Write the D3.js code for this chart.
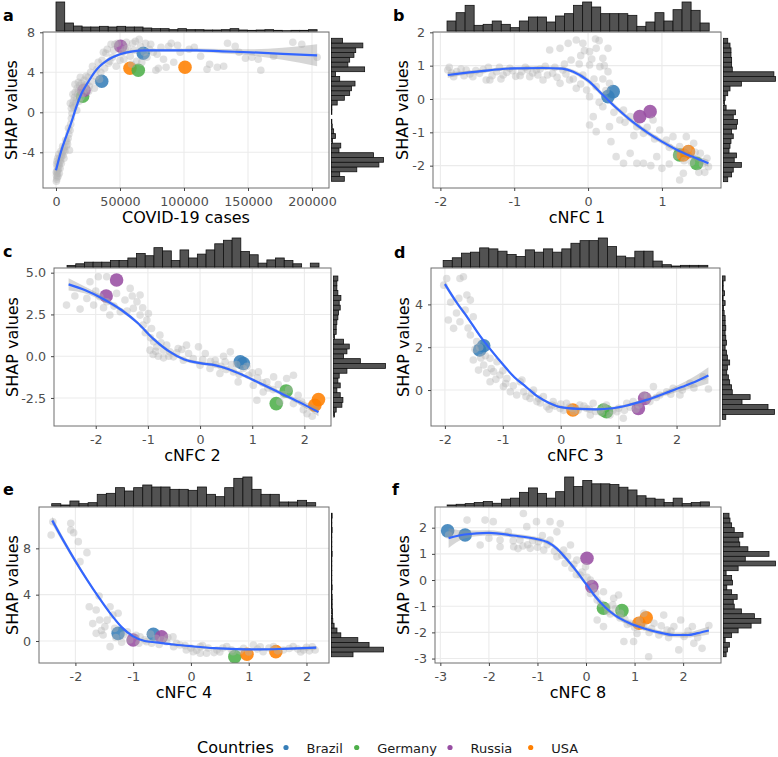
<!DOCTYPE html>
<html><head><meta charset="utf-8">
<script src="https://cdn.jsdelivr.net/npm/d3@7"></script>
<style>body{margin:0;background:#fff;} svg text{font-family:"DejaVu Sans",sans-serif;}</style>
</head><body><svg id="chart" width="778" height="757"></svg>
<script>
// ---------------- DATA ----------------
const countries = ["Brazil","Germany","Russia","USA"];
const countryColors = ["#377eb8","#4daf4a","#984ea3","#ff7f00"];

// Panel a : COVID-19 cases
const xTicksA = [0,50000,100000,150000,200000];
const yTicksA = [-4,0,4,8];
const grayA = [[300,-6.9],[600,-6.7],[900,-6.5],[400,-6.3],[1200,-6.1],[700,-5.9],[1500,-5.8],[2000,-5.6],[1000,-5.5],[2500,-5.3],[1800,-5.1],[3000,-5.0],[3500,-4.8],[2800,-4.6],[4000,-4.5],[4500,-4.2],[5000,-4.0],[5500,-4.3],[6000,-3.8],[6500,-3.5],[7000,-3.9],[8000,-3.4],[8500,-2.9],[9000,-3.2],[9500,-2.6],[10000,-2.2],[10500,-3.8],[11000,-1.8],[11500,-1.2],[12000,-0.6],[12500,-0.1],[12000,0.4],[13000,0.7],[13500,1.1],[14000,0.5],[14500,1.5],[15000,2.0],[15500,0.9],[16000,1.3],[16500,2.4],[17000,1.8],[17500,3.0],[18000,1.1],[18500,2.7],[19000,3.5],[20000,2.9],[21000,1.9],[22000,3.2],[23000,2.3],[24000,2.8],[25000,3.5],[26000,2.6],[27000,4.0],[28000,3.1],[30000,2.4],[31000,3.6],[32000,4.3],[33000,5.0],[35000,4.0],[36000,5.2],[38000,4.4],[39000,5.9],[40000,6.3],[41000,4.9],[43000,6.8],[44000,5.5],[45000,6.2],[47000,4.6],[48000,6.9],[52000,6.0],[53000,5.3],[55000,7.0],[56000,6.4],[58000,5.6],[60000,6.9],[61000,6.2],[63000,5.1],[65000,7.3],[66000,6.6],[70000,6.9],[71000,5.5],[73000,6.3],[76000,6.0],[78000,4.2],[80000,4.4],[82000,6.5],[84000,5.3],[86000,4.5],[88000,6.6],[90000,6.9],[92000,5.0],[95000,6.7],[97000,6.0],[104000,6.3],[108000,6.5],[113000,5.6],[118000,4.3],[120000,4.8],[126000,4.5],[131000,4.6],[134000,6.9],[140000,6.6],[143000,6.0],[148000,5.4],[153000,5.5],[158000,5.3],[160000,4.2],[170000,5.6],[185000,7.0],[192000,6.8],[204000,5.5],[200,-6.0],[500,-5.2],[800,-4.9],[1300,-4.6],[1600,-6.4],[2200,-4.2],[2600,-6.1],[3200,-5.6],[3800,-3.9],[4200,-5.1],[5200,-3.4],[6200,-4.6],[7500,-2.8],[9800,-1.6],[11200,0.9],[13200,1.8],[14800,2.8],[16200,0.2],[17800,2.2],[19500,1.5],[21500,2.6],[23500,3.6],[25500,2.1],[28500,4.6],[34000,3.3],[37000,6.0],[42000,5.1],[46000,6.8],[50000,5.2],[54000,6.3],[59000,4.8],[62000,7.1],[67000,5.0],[69000,6.0],[74000,6.8],[79000,5.8]];
const colA = [["Brazil",68200,5.9],["Brazil",35700,3.1],["USA",57800,4.4],["USA",100800,4.5],["Germany",64300,4.2],["Germany",20800,1.6],["Russia",50500,6.6],["Russia",21900,2.2]];
const smXA = [0,4000,8000,12000,16000,20000,25000,30000,35000,40000,50000,60000,70000,90000,110000,130000,152000,177000,204000];
const smYA = [-5.8,-3.9,-2.4,-1.0,0.6,1.9,3.0,4.0,4.7,5.2,5.8,6.1,6.2,6.2,6.2,6.1,6.0,5.85,5.7];
const smSEA = [0.3,0.2,0.15,0.15,0.15,0.15,0.15,0.15,0.15,0.15,0.15,0.15,0.15,0.15,0.18,0.22,0.3,0.6,1.1];
const histTopA = [87,24,15,12,12,14,12,14,12,12,9,7,7,4,7,4,4,3,3,4,7,3,2,3,4,2,1,2,2,4];
const histTopRangeA = [0,204000];
const histRightA = [36,23,71,133,146,118,21,26,3,11,6,2,1,0,1,1,16,36,51,56,66,23,11,93,46,51,63,68,88,31];
const histRightRangeA = [-6.9,7.4];

// Panel b : cNFC 1
const xTicksB = [-2,-1,0,1];
const yTicksB = [-2,-1,0,1,2];
const grayB = [[-1.90,0.87],[-1.82,0.67],[-1.78,0.82],[-1.65,0.87],[-1.56,0.67],[-1.47,0.77],[-1.38,0.57],[-1.33,0.57],[-1.24,0.82],[-1.15,0.72],[-1.06,0.92],[-0.90,0.82],[-0.79,0.67],[-0.70,0.87],[-0.61,0.57],[-0.48,0.77],[-0.38,0.47],[-0.34,0.87],[-0.25,0.57],[-0.16,0.32],[-0.23,1.17],[-0.52,1.47],[-0.38,1.52],[-0.27,1.67],[-0.16,1.77],[-0.07,1.67],[0.02,1.42],[0.11,1.52],[0.20,1.22],[0.27,1.52],[0.27,0.82],[0.16,0.97],[0.02,1.02],[-0.07,0.72],[0.02,0.07],[0.11,0.37],[0.20,-0.23],[0.07,-0.53],[0.02,-0.78],[0.11,-0.98],[0.29,-0.83],[0.31,-1.28],[0.43,-0.63],[0.48,-0.33],[0.57,-0.53],[0.66,-0.83],[0.75,-1.03],[0.88,-0.63],[0.97,-0.93],[1.06,-1.23],[1.15,-1.13],[1.24,-1.43],[1.33,-1.13],[1.43,-1.33],[1.52,-1.63],[1.61,-1.78],[1.63,-2.03],[1.24,-2.43],[1.29,-2.23],[0.93,-1.73],[1.00,-2.08],[0.66,-1.93],[0.57,-1.63],[0.48,-1.93],[0.38,-1.73],[0.75,-1.93],[0.29,0.47],[-0.02,0.27],[-1.85,0.78],[-1.72,0.9],[-1.6,0.75],[-1.42,0.88],[-1.3,0.7],[-1.2,0.95],[-1.1,0.8],[-0.98,0.68],[-0.85,0.95],[-0.75,0.78],[-0.65,0.9],[-0.55,0.72],[-0.45,0.95],[-0.3,0.75],[-0.2,0.6],[1.4,-1.9],[1.5,-2.2],[1.35,-1.5],[0.1,1.8],[-0.1,1.3],[0.2,0.6],[-1.88,0.95],[-1.68,0.7],[-1.52,0.85],[-1.35,0.95],[-1.18,0.6],[-1.02,0.85],[-0.92,0.7],[-0.82,0.88],[-0.68,0.72],[-0.58,0.98],[-0.42,0.65],[-0.32,1.05],[-0.12,1.05],[-0.05,1.45],[0.05,1.2],[0.15,1.75],[0.22,1.0],[0.08,0.6],[-0.1,0.45],[0.24,0.25],[0.15,-0.1],[0.35,-0.4],[0.5,-0.7],[0.62,-1.1],[0.8,-0.85],[0.9,-1.2],[1.1,-1.45],[1.2,-1.7],[1.3,-1.85],[1.45,-1.6],[1.55,-1.95],[1.58,-2.2],[1.1,-1.95],[0.85,-2.0]];
const colB = [["Brazil",0.27,0.07],["Brazil",0.34,0.22],["Russia",0.70,-0.53],["Russia",0.84,-0.38],["Germany",1.24,-1.68],["Germany",1.47,-1.93],["USA",1.29,-1.68],["USA",1.36,-1.58]];
const smXB = [-1.9,-1.5,-1.0,-0.6,-0.35,-0.2,0,0.2,0.4,0.6,0.8,1.0,1.2,1.4,1.63];
const smYB = [0.72,0.82,0.92,0.93,0.91,0.82,0.55,0.12,-0.3,-0.68,-1.0,-1.28,-1.52,-1.72,-1.93];
const smSEB = [0.08,0.05,0.05,0.05,0.05,0.06,0.07,0.07,0.07,0.07,0.07,0.07,0.07,0.08,0.1];
const histTopB = [30,55,77,17,20,30,20,10,30,42,42,27,45,52,77,87,72,52,52,52,47,14,27,55,30,64,87,62,24];
const histTopRangeB = [-1.91,1.64];
const histRightB = [13,25,30,55,33,40,17,20,23,30,25,40,43,30,37,8,3,5,13,20,55,160,155,27,25,25,23,23,20,13];
const histRightRangeB = [-2.48,1.82];

// Panel c : cNFC 2
const xTicksC = [-2,-1,0,1,2];
const yTicksC = [-2.5,0,2.5,5];
const grayC = [[-2.56,3.06],[-2.30,2.82],[-2.17,3.46],[-2.11,4.46],[-1.95,4.76],[-2.04,3.06],[-1.92,3.56],[-1.79,3.26],[-1.73,2.46],[-1.60,3.76],[-1.53,2.66],[-1.44,3.36],[-1.34,4.06],[-1.28,2.86],[-1.21,3.26],[-1.15,2.46],[-1.09,1.86],[-1.02,2.16],[-0.99,2.56],[-0.93,1.66],[-0.89,0.86],[-0.83,0.56],[-0.77,1.26],[-0.70,0.36],[-0.64,0.66],[-0.58,0.26],[-0.51,-0.04],[-0.42,0.46],[-0.32,-0.24],[-0.22,0.16],[-0.13,-0.14],[-0.03,0.56],[0.00,-0.54],[0.10,0.16],[0.19,-0.74],[0.29,-0.24],[0.38,-1.04],[0.48,-0.34],[0.58,0.26],[0.64,-0.94],[0.73,-1.54],[0.83,-0.74],[0.93,-1.14],[1.02,-1.74],[1.12,-0.94],[1.21,-2.14],[1.09,-2.64],[1.28,-1.54],[1.41,-1.24],[1.53,-2.74],[1.66,-1.34],[1.79,-1.14],[1.79,-2.84],[1.88,-2.34],[1.95,-2.74],[-0.26,0.66],[-0.96,0.36],[-1.15,3.66],[-1.79,4.76],[2.05,-3.45],[1.98,-3.2],[2.15,-3.6],[-0.9,0.1],[-0.8,0.0],[-0.7,-0.1],[0.4,-0.6],[0.6,-0.5],[0.5,-0.8],[0.2,-0.3],[0.9,-0.6],[1.1,-1.3],[1.3,-1.9],[1.6,-2.3],[1.7,-2.0],[-2.4,3.6],[-2.0,3.9],[-1.85,2.9],[-1.65,3.0],[-1.4,2.7],[-1.3,3.6],[-1.1,2.9],[-1.05,1.4],[-0.95,1.1],[-0.85,0.3],[-0.75,0.8],[-0.6,0.0],[-0.45,0.2],[-0.35,0.4],[0.05,-0.2],[0.3,-0.5],[0.45,0.0],[0.7,-0.5],[0.75,-1.1],[1.0,-1.0],[1.2,-1.6],[1.4,-2.0],[1.5,-1.7]];
const colC = [["Russia",-1.60,4.56],["Russia",-1.80,3.60],["Brazil",0.77,-0.34],["Brazil",0.83,-0.44],["Germany",1.65,-2.08],["Germany",1.46,-2.84],["USA",2.20,-2.94],["USA",2.27,-2.60]];
const smXC = [-2.52,-2.2,-1.9,-1.5,-1.2,-0.9,-0.6,-0.3,0,0.3,0.55,0.8,1.1,1.5,1.9,2.27];
const smYC = [4.3,3.95,3.5,2.75,2.0,1.05,0.3,-0.2,-0.42,-0.55,-0.78,-1.1,-1.55,-2.15,-2.75,-3.35];
const smSEC = [0.37,0.2,0.15,0.12,0.1,0.1,0.1,0.1,0.1,0.1,0.1,0.1,0.1,0.12,0.15,0.25];
const histTopC = [5,10,15,15,15,20,20,28,42,35,60,50,20,53,28,40,53,72,83,90,48,38,12,22,28,20,10,0,12];
const histTopRangeC = [-2.55,2.28];
const histRightC = [3,8,25,28,20,10,20,13,17,40,155,80,30,40,47,30,3,8,8,10,13,15,20,17,22,13,10,10,13];
const histRightRangeC = [-3.64,4.8];

// Panel d : cNFC 3
const xTicksD = [-2,-1,0,1,2];
const yTicksD = [0,2,4];
const grayD = [[-2.02,4.90],[-1.97,5.21],[-1.94,3.27],[-1.85,2.88],[-1.74,5.21],[-1.68,5.29],[-1.76,4.28],[-1.62,4.44],[-1.56,4.20],[-1.65,3.74],[-1.74,3.19],[-1.51,3.42],[-1.56,2.57],[-1.45,2.26],[-1.51,1.40],[-1.42,0.93],[-1.33,1.17],[-1.22,1.48],[-1.16,0.86],[-1.22,0.39],[-1.10,1.32],[-1.05,0.70],[-0.99,0.16],[-0.93,0.54],[-0.87,-0.08],[-0.70,0.39],[-0.76,-0.23],[-0.64,-0.08],[-0.53,-0.39],[-0.47,0.00],[-0.41,-0.54],[-0.30,-0.31],[-0.24,-0.78],[-0.13,-0.54],[-0.01,-0.86],[0.10,-0.62],[0.22,-1.01],[0.33,-0.70],[0.45,-0.86],[0.56,-0.62],[0.68,-0.93],[0.79,-0.70],[0.97,-1.01],[1.08,-1.32],[1.14,-0.62],[1.25,-0.54],[1.43,-0.23],[1.54,-0.54],[1.60,0.16],[1.71,-0.23],[1.83,-0.08],[1.94,0.08],[2.06,-0.23],[2.23,0.31],[2.46,0.62],[2.55,0.05],[-0.67,0.47],[0.51,-1.17],[0.85,-1.17],[0.05,-0.95],[0.3,-0.95],[0.6,-1.0],[0.9,-0.95],[0.4,-0.75],[0.75,-0.8],[1.0,-0.85],[-0.1,-0.75],[-0.35,-0.6],[-0.2,-0.9],[1.3,-0.9],[1.2,-0.8],[0.15,-0.8],[-1.3,1.6],[-1.4,2.0],[-1.2,1.0],[-1.0,0.9],[-1.9,4.1],[-1.8,3.6],[-1.6,2.9],[-1.48,1.9],[-1.38,1.5],[-1.28,0.8],[-1.12,0.5],[-0.95,0.3],[-0.82,0.2],[-0.6,-0.3],[-0.5,-0.15],[-0.38,-0.4],[-0.15,-0.7],[0.0,-0.65],[0.2,-0.85],[0.5,-0.9],[0.7,-1.05],[1.1,-0.95],[1.35,-0.7],[1.5,-0.3],[1.65,-0.35],[1.9,-0.2],[2.1,0.0],[2.3,0.1]];
const colD = [["Brazil",-1.40,1.87],["Brazil",-1.33,2.07],["USA",0.21,-0.93],["Germany",0.74,-0.93],["Germany",0.79,-1.01],["Russia",1.34,-0.86],["Russia",1.45,-0.39]];
const smXD = [-2.0,-1.8,-1.6,-1.4,-1.2,-1.0,-0.8,-0.6,-0.4,-0.2,0,0.3,0.6,0.9,1.2,1.5,1.8,2.1,2.35,2.55];
const smYD = [4.95,4.1,3.35,2.55,1.85,1.2,0.6,0.15,-0.3,-0.6,-0.8,-0.88,-0.9,-0.85,-0.68,-0.45,-0.15,0.15,0.42,0.68];
const smSED = [0.12,0.1,0.08,0.07,0.07,0.07,0.06,0.06,0.06,0.06,0.06,0.06,0.06,0.06,0.07,0.08,0.1,0.18,0.28,0.38];
const histTopD = [20,28,42,45,58,55,48,38,32,52,45,55,45,55,72,80,80,88,62,33,28,48,48,18,7,3,5,5,5];
const histTopRangeD = [-2.03,2.54];
const histRightD = [10,160,140,60,85,30,28,22,18,13,15,22,15,12,8,12,10,8,10,8,8,5,3,8,2,6,2,2,8];
const histRightRangeD = [-1.37,5.33];

// Panel e : cNFC 4
const xTicksE = [-2,-1,0,1,2];
const yTicksE = [0,4,8];
const grayE = [[-2.42,9.15],[-2.39,10.30],[-2.08,10.16],[-2.08,9.58],[-2.03,9.35],[-1.95,8.58],[-1.92,6.85],[-1.80,7.63],[-1.76,2.96],[-1.59,3.88],[-1.64,2.68],[-1.58,1.81],[-1.49,1.24],[-1.40,2.96],[-1.35,2.24],[-1.26,2.39],[-1.32,1.09],[-1.52,0.52],[-1.64,0.66],[-1.17,0.52],[-1.06,0.09],[-0.88,0.37],[-0.77,-0.06],[-0.60,0.23],[-0.42,-0.06],[-0.31,0.37],[-0.19,-0.35],[-0.08,-0.78],[0.04,-0.92],[0.16,-0.49],[0.27,-1.06],[0.45,-0.78],[0.62,-0.49],[0.73,-0.92],[0.91,-0.63],[1.08,-0.35],[1.25,-0.92],[1.43,-0.49],[1.60,-0.78],[1.77,-0.49],[1.95,-0.78],[2.15,-0.78],[-0.68,-0.20],[0.16,-1.06],[-1.40,-0.49],[-1.2,-0.1],[-0.9,-0.2],[-0.5,0.1],[0.3,-0.6],[0.5,-0.95],[0.85,-0.85],[1.15,-0.7],[1.35,-0.6],[1.7,-0.65],[2.0,-0.55],[0.0,-0.6],[-0.3,-0.5],[1.9,-0.95],[2.1,-0.5],[-1.7,1.5],[-1.55,0.9],[-1.45,1.8],[-1.3,0.3],[-1.1,0.8],[-0.95,0.5],[-0.8,0.1],[-0.7,0.6],[-0.55,-0.3],[-0.4,0.3],[-0.25,-0.2],[-0.1,-0.4],[0.1,-0.8],[0.2,-0.4],[0.4,-1.0],[0.55,-0.6],[0.7,-0.75],[1.0,-0.95],[1.2,-0.5],[1.5,-0.85],[1.85,-0.7],[2.05,-0.85]];
const colE = [["Brazil",-1.26,0.66],["Brazil",-0.65,0.58],["Russia",-1.0,0.09],["Russia",-0.51,0.37],["Germany",0.76,-1.35],["USA",0.97,-1.15],["USA",1.47,-0.92]];
const smXE = [-2.4,-2.2,-2.0,-1.8,-1.6,-1.4,-1.2,-1.0,-0.8,-0.6,-0.3,0,0.4,0.8,1.2,1.6,2.17];
const smYE = [10.4,8.6,6.9,5.3,3.8,2.4,1.2,0.4,0.0,-0.12,-0.3,-0.45,-0.62,-0.7,-0.72,-0.68,-0.58];
const smSEE = [0.35,0.25,0.2,0.15,0.12,0.1,0.1,0.1,0.08,0.08,0.08,0.08,0.08,0.08,0.08,0.1,0.15];
const histTopE = [7,3,15,7,10,35,38,55,45,55,63,57,57,50,50,47,57,35,28,55,83,87,50,35,35,12,12,17,10];
const histTopRangeE = [-2.41,2.16];
const histRightE = [67,162,117,82,29,17,8,4,3,3,2,2,2,1,2,1,1,1,1,1,1,2,1,1,1,1,2,1,1,2];
const histRightRangeE = [-1.36,11.03];

// Panel f : cNFC 8
const xTicksF = [-3,-2,-1,0,1,2];
const yTicksF = [-3,-2,-1,0,1,2];
const grayF = [[-2.83,1.72],[-2.45,2.29],[-2.18,1.34],[-2.08,2.29],[-1.91,2.23],[-1.77,1.53],[-1.60,1.84],[-1.49,1.27],[-1.36,1.53],[-1.29,2.54],[-1.22,2.04],[-1.15,1.21],[-1.02,2.23],[-0.98,1.46],[-0.87,1.15],[-0.74,2.23],[-0.60,1.84],[-0.74,1.53],[-0.60,0.89],[-0.46,1.15],[-0.53,2.16],[-0.32,1.34],[-0.43,0.64],[-0.29,0.45],[-0.19,0.76],[-0.12,0.19],[-0.01,0.51],[0.09,0.00],[0.09,-0.51],[0.23,-0.76],[0.36,-0.45],[0.43,-1.02],[0.57,-0.70],[0.67,-0.57],[0.71,-1.27],[0.23,-1.53],[0.36,-1.78],[0.78,-2.35],[0.98,-2.35],[0.91,-1.65],[1.05,-2.04],[1.19,-1.78],[1.40,-1.65],[1.60,-1.34],[1.67,-1.91],[1.81,-1.78],[1.91,-2.67],[1.95,-1.53],[2.02,-2.16],[2.19,-1.78],[2.22,-2.42],[2.39,-2.61],[2.53,-1.74],[1.29,-2.93],[1.19,-1.27],[-1.77,1.27],[-1.3,1.3],[-1.1,1.5],[-0.9,1.7],[-1.5,1.5],[-2.0,1.6],[0.5,-1.3],[0.8,-1.5],[1.0,-1.8],[1.3,-2.0],[1.5,-2.1],[1.7,-2.2],[0.6,-1.1],[-0.2,0.2],[0.15,-0.3],[-1.4,1.2],[-1.2,1.35],[-1.0,1.25],[-0.8,1.35],[-0.65,1.1],[-0.5,0.95],[-0.38,0.9],[-0.25,0.6],[-0.08,0.3],[0.02,0.1],[0.2,-0.5],[0.3,-0.9],[0.45,-1.2],[0.55,-0.95],[0.7,-1.45],[0.85,-1.7],[1.1,-1.55],[1.35,-1.85],[1.55,-1.75],[1.75,-1.95],[2.1,-1.95],[2.3,-2.2]];
const colF = [["Brazil",-2.85,1.88],["Brazil",-2.49,1.72],["Russia",0.02,0.83],["Russia",0.12,-0.25],["Germany",0.36,-1.08],["Germany",0.74,-1.17],["USA",1.09,-1.65],["USA",1.24,-1.44]];
const smXF = [-2.83,-2.5,-2.0,-1.5,-1.0,-0.8,-0.6,-0.4,-0.2,0,0.2,0.4,0.6,0.9,1.2,1.5,1.8,2.1,2.3,2.53];
const smYF = [1.6,1.74,1.8,1.7,1.56,1.45,1.2,0.8,0.35,-0.15,-0.65,-1.05,-1.35,-1.65,-1.85,-2.0,-2.1,-2.1,-2.03,-1.93];
const smSEF = [0.38,0.15,0.1,0.08,0.08,0.08,0.08,0.08,0.08,0.08,0.08,0.08,0.08,0.08,0.08,0.08,0.09,0.1,0.12,0.15];
const histTopF = [3,5,7,10,13,8,20,23,40,53,37,23,42,85,57,75,65,65,63,55,47,30,23,20,10,23,7,10,12];
const histTopRangeF = [-2.86,2.54];
const histRightF = [8,12,18,5,25,45,85,115,95,55,33,30,42,25,10,28,25,8,45,160,67,140,75,50,47,60,33,25,20,17];
const histRightRangeF = [-2.93,2.55];

// ---------------- LAYOUT ----------------
const fmtInt = d => String(d);
const fmt1 = d => d.toFixed(1);
const panels = [
  {key:"a", xTitle:"COVID-19 cases", gray:grayA, col:colA, smX:smXA, smY:smYA, smSE:smSEA, xTicks:xTicksA, yTicks:yTicksA, xFmt:fmtInt, yFmt:fmtInt,
   hTop:histTopA, hTopR:histTopRangeA, hRight:histRightA, hRightR:histRightRangeA,
   rect:{l:43,r:329,t:32,b:188}, xDom:[-10156,213281], yDom:[-7.57,8.03], lab:[3,20.5], yTitleX:17.3},
  {key:"b", xTitle:"cNFC 1", gray:grayB, col:colB, smX:smXB, smY:smYB, smSE:smSEB, xTicks:xTicksB, yTicks:yTicksB, xFmt:fmtInt, yFmt:fmtInt,
   hTop:histTopB, hTopR:histTopRangeB, hRight:histRightB, hRightR:histRightRangeB,
   rect:{l:433,r:721,t:32,b:188}, xDom:[-2.10,1.80], yDom:[-2.67,2.01], lab:[393,20.5], yTitleX:408.3},
  {key:"c", xTitle:"cNFC 2", gray:grayC, col:colC, smX:smXC, smY:smYC, smSE:smSEC, xTicks:xTicksC, yTicks:yTicksC, xFmt:fmtInt, yFmt:fmt1,
   hTop:histTopC, hTopR:histTopRangeC, hRight:histRightC, hRightR:histRightRangeC,
   rect:{l:54,r:331,t:268,b:426}, xDom:[-2.80,2.51], yDom:[-4.18,5.28], lab:[3,256.7], yTitleX:18.3},
  {key:"d", xTitle:"cNFC 3", gray:grayD, col:colD, smX:smXD, smY:smYD, smSE:smSED, xTicks:xTicksD, yTicks:yTicksD, xFmt:fmtInt, yFmt:fmtInt,
   hTop:histTopD, hTopR:histTopRangeD, hRight:histRightD, hRightR:histRightRangeD,
   rect:{l:431,r:720,t:268,b:426}, xDom:[-2.24,2.75], yDom:[-1.68,5.70], lab:[394,257.7], yTitleX:409},
  {key:"e", xTitle:"cNFC 4", gray:grayE, col:colE, smX:smXE, smY:smYE, smSE:smSEE, xTicks:xTicksE, yTicks:yTicksE, xFmt:fmtInt, yFmt:fmtInt,
   hTop:histTopE, hTopR:histTopRangeE, hRight:histRightE, hRightR:histRightRangeE,
   rect:{l:39,r:329,t:507,b:663}, xDom:[-2.63,2.39], yDom:[-1.90,11.57], lab:[3,495], yTitleX:18.3},
  {key:"f", xTitle:"cNFC 8", gray:grayF, col:colF, smX:smXF, smY:smYF, smSE:smSEF, xTicks:xTicksF, yTicks:yTicksF, xFmt:fmtInt, yFmt:fmtInt,
   hTop:histTopF, hTopR:histTopRangeF, hRight:histRightF, hRightR:histRightRangeF,
   rect:{l:435,r:721,t:507,b:663}, xDom:[-3.11,2.78], yDom:[-3.17,2.79], lab:[392,495], yTitleX:409}
];

const svg = d3.select("#chart");
svg.append("rect").attr("width",778).attr("height",757).attr("fill","#fff");
const colorOf = c => countryColors[countries.indexOf(c)];

function drawPanel(p) {
  const {l,r,t,b} = p.rect;
  const g = svg.append("g");
  const x = d3.scaleLinear().domain(p.xDom).range([l,r]);
  const y = d3.scaleLinear().domain(p.yDom).range([b,t]);
  const clipId = "clip-" + p.key;
  svg.append("clipPath").attr("id",clipId).append("rect")
    .attr("x",l).attr("y",t).attr("width",r-l).attr("height",b-t);

  // grid
  g.append("g").selectAll("line").data(p.xTicks).join("line")
    .attr("x1",d=>x(d)).attr("x2",d=>x(d)).attr("y1",t).attr("y2",b)
    .attr("stroke","#ebebeb").attr("stroke-width",1.1);
  g.append("g").selectAll("line").data(p.yTicks).join("line")
    .attr("x1",l).attr("x2",r).attr("y1",d=>y(d)).attr("y2",d=>y(d))
    .attr("stroke","#ebebeb").attr("stroke-width",1.1);

  const pl = g.append("g").attr("clip-path",`url(#${clipId})`);
  pl.append("g").selectAll("circle").data(p.col).join("circle")
    .attr("cx",d=>x(d[1])).attr("cy",d=>y(d[2])).attr("r",6.8)
    .attr("fill",d=>colorOf(d[0])).attr("fill-opacity",0.88);
  pl.append("g").selectAll("circle").data(p.gray).join("circle")
    .attr("cx",d=>x(d[0])).attr("cy",d=>y(d[1])).attr("r",3.8)
    .attr("fill","#b3b3b3").attr("fill-opacity",0.4);
  const sm = p.smX.map((v,i)=>[v,p.smY[i],p.smSE[i]]);
  pl.append("path").datum(sm)
    .attr("d", d3.area().curve(d3.curveMonotoneX).x(d=>x(d[0])).y0(d=>y(d[1]-d[2])).y1(d=>y(d[1]+d[2])))
    .attr("fill","#999999").attr("fill-opacity",0.4);
  pl.append("path").datum(sm)
    .attr("d", d3.line().curve(d3.curveMonotoneX).x(d=>x(d[0])).y(d=>y(d[1])))
    .attr("fill","none").attr("stroke","#3366ff").attr("stroke-width",2.2);

  g.append("rect").attr("x",l).attr("y",t).attr("width",r-l).attr("height",b-t)
    .attr("fill","none").attr("stroke","#6e6e6e").attr("stroke-width",1);

  // axes
  const xa = g.append("g").attr("transform",`translate(0,${b})`)
    .call(d3.axisBottom(x).tickValues(p.xTicks).tickFormat(p.xFmt).tickSize(3).tickPadding(6));
  const ya = g.append("g").attr("transform",`translate(${l},0)`)
    .call(d3.axisLeft(y).tickValues(p.yTicks).tickFormat(p.yFmt).tickSize(3).tickPadding(5));
  [xa,ya].forEach(a=>{
    a.select(".domain").remove();
    a.selectAll(".tick line").attr("stroke","#444");
    a.selectAll(".tick text").attr("fill","#4d4d4d").style("font-size","12.7px").style("font-family","DejaVu Sans");
  });

  // axis titles
  g.append("text").attr("x",(l+r)/2).attr("y",b+35).attr("text-anchor","middle")
    .style("font-size","16px").attr("fill","#000").text(p.xTitle);
  g.append("text").attr("transform",`translate(${p.yTitleX},${(t+b)/2}) rotate(-90)`)
    .attr("text-anchor","middle").style("font-size","16px").attr("fill","#000").text("SHAP values");
  g.append("text").attr("x",p.lab[0]).attr("y",p.lab[1]).style("font-size","16px")
    .style("font-weight","bold").attr("fill","#000").text(p.key);

  // top histogram
  const nT = p.hTop.length, wT = (p.hTopR[1]-p.hTopR[0])/nT;
  const hsT = d3.scaleLinear().domain([0,d3.max(p.hTop)]).range([0,29]);
  g.append("g").selectAll("rect").data(p.hTop.map((c,i)=>({c,i})).filter(d=>d.c>0)).join("rect")
    .attr("x",d=>x(p.hTopR[0]+d.i*wT))
    .attr("width",d=>x(p.hTopR[0]+(d.i+1)*wT)-x(p.hTopR[0]+d.i*wT))
    .attr("y",d=>t-1-hsT(d.c)).attr("height",d=>hsT(d.c))
    .attr("fill","#525252").attr("stroke","#111").attr("stroke-width",0.8);

  // right histogram
  const nR = p.hRight.length, wR = (p.hRightR[1]-p.hRightR[0])/nR;
  const hsR = d3.scaleLinear().domain([0,d3.max(p.hRight)]).range([0,52]);
  g.append("g").selectAll("rect").data(p.hRight.map((c,i)=>({c,i})).filter(d=>d.c>0)).join("rect")
    .attr("y",d=>y(p.hRightR[0]+(d.i+1)*wR))
    .attr("height",d=>y(p.hRightR[0]+d.i*wR)-y(p.hRightR[0]+(d.i+1)*wR))
    .attr("x",r+2.5).attr("width",d=>hsR(d.c))
    .attr("fill","#525252").attr("stroke","#111").attr("stroke-width",0.8);
}
panels.forEach(drawPanel);

// legend
const lg = svg.append("g");
lg.append("text").attr("x",197).attr("y",753).style("font-size","16px").attr("fill","#000").text("Countries");
const legX = [286,356.7,450,530.7];
lg.selectAll("circle").data(countries).join("circle")
  .attr("cx",(d,i)=>legX[i]).attr("cy",747.5).attr("r",2.6).attr("fill",(d,i)=>countryColors[i]);
lg.selectAll("text.item").data(countries).join("text").attr("class","item")
  .attr("x",(d,i)=>legX[i]+20.5).attr("y",752.5).style("font-size","13px").attr("fill","#1a1a1a").text(d=>d);
</script></body></html>
